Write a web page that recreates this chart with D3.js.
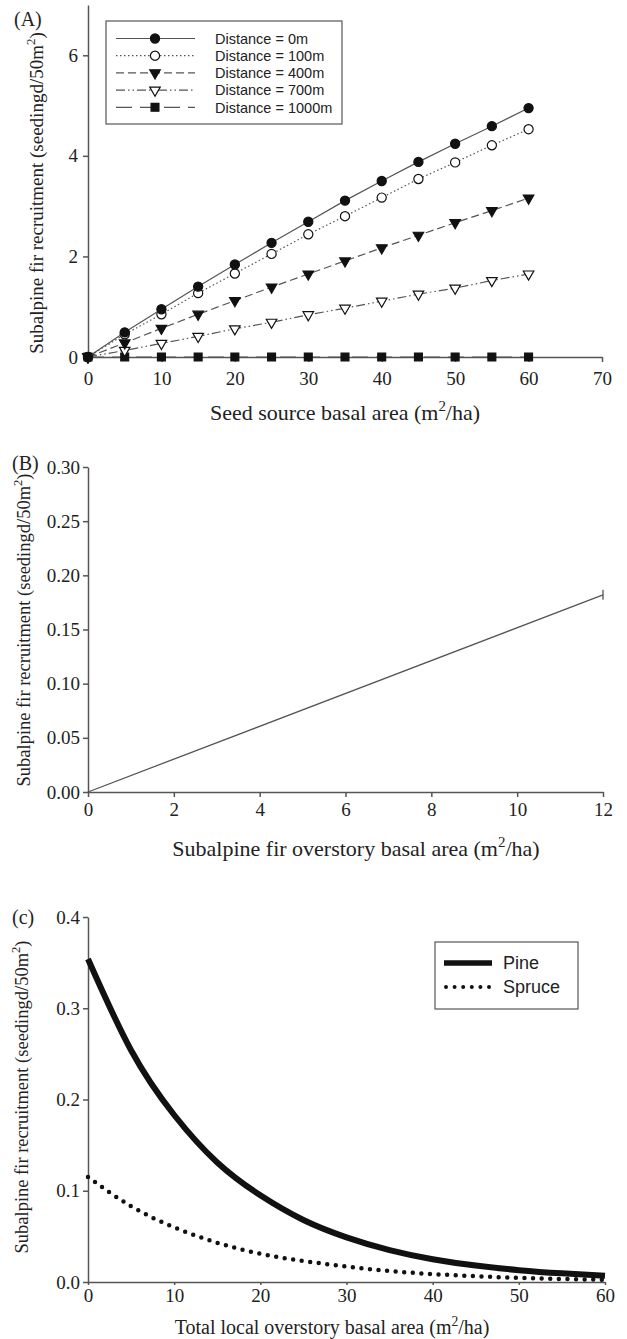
<!DOCTYPE html>
<html>
<head>
<meta charset="utf-8">
<script src="https://cdn.jsdelivr.net/npm/d3@7"></script>
<style>
  body { margin: 0; background: #fff; }
  svg { display: block; }
  .chart .tick text { font-family: 'Liberation Serif', 'Times New Roman', serif; font-size: 19px; fill: #222; }
</style>
</head>
<body>
<svg class="chart"></svg>
<script>
// (A) seed source basal area vs recruitment, by distance
const seedBA = [0, 5, 10, 15, 20, 25, 30, 35, 40, 45, 50, 55, 60]
const dist0m = [0, 0.49, 0.95, 1.40, 1.84, 2.27, 2.69, 3.11, 3.50, 3.88, 4.24, 4.59, 4.95]
const dist100m = [0, 0.45, 0.85, 1.27, 1.66, 2.05, 2.44, 2.80, 3.17, 3.54, 3.87, 4.21, 4.53]
const dist400m = [0, 0.28, 0.57, 0.85, 1.12, 1.39, 1.65, 1.91, 2.17, 2.42, 2.67, 2.91, 3.16]
const dist700m = [0, 0.13, 0.27, 0.41, 0.56, 0.69, 0.84, 0.97, 1.11, 1.25, 1.37, 1.52, 1.65]
const dist1000m = [0, 0, 0, 0, 0, 0, 0, 0, 0, 0, 0, 0, 0]
const distLabels = ['Distance = 0m', 'Distance = 100m', 'Distance = 400m', 'Distance = 700m', 'Distance = 1000m']
const xTicksA = [0, 10, 20, 30, 40, 50, 60, 70]
const yTicksA = [0, 2, 4, 6]

// (B) fir overstory basal area vs recruitment
const firBA = [0, 12]
const firRecruit = [0, 0.182]
const xTicksB = [0, 2, 4, 6, 8, 10, 12]
const yTicksB = [0, 0.05, 0.10, 0.15, 0.20, 0.25, 0.30]

// (c) total local overstory basal area vs recruitment
const totalBA = [0, 5, 10, 15, 20, 25, 30, 35, 40, 45, 50, 55, 60]
const pine = [0.354, 0.254, 0.183, 0.131, 0.095, 0.068, 0.049, 0.035, 0.025, 0.018, 0.013, 0.0095, 0.0068]
const spruce = [0.115, 0.083, 0.060, 0.043, 0.031, 0.023, 0.017, 0.012, 0.0087, 0.0063, 0.0045, 0.0033, 0.0024]
const xTicksC = [0, 10, 20, 30, 40, 50, 60]
const yTicksC = [0, 0.1, 0.2, 0.3, 0.4]

const serif = "'Liberation Serif', 'Times New Roman', serif"
const sans = "'Liberation Sans', Arial, sans-serif"
const axisColor = '#555'
const lineColor = '#555'

const chart = d3.select('.chart').attr('width', 627).attr('height', 1339)

function draw_axes(g, xSc, ySc, xTicks, yTicks, xFmt, yFmt, o) {
  const ax = g.append('g')
  ax.append('g')
    .attr('transform', `translate(0,${ySc.range()[0]})`)
    .call(d3.axisBottom(xSc).tickValues(xTicks).tickSize(o.xTick).tickSizeOuter(0).tickPadding(o.xPad).tickFormat(xFmt))
    .attr('font-family', serif)
    .attr('font-size', 19)
  ax.append('g')
    .attr('transform', `translate(${xSc.range()[0]},0)`)
    .call(d3.axisLeft(ySc).tickValues(yTicks).tickSize(5).tickSizeOuter(0).tickPadding(o.yPad).tickFormat(yFmt))
    .attr('font-family', serif)
    .attr('font-size', 19)
  ax.selectAll('.domain, .tick line').style('stroke', axisColor).style('stroke-width', '1.5px')
}

// text with a superscript "2" in the middle
function sup_text(g, x, y, size, before, after, rotate) {
  const t = g.append('text')
    .attr('x', x)
    .attr('y', y)
    .attr('text-anchor', 'middle')
    .style('font-family', serif)
    .style('font-size', size + 'px')
    .style('fill', '#222')
  if (rotate) t.attr('transform', `rotate(-90,${x},${y})`)
  t.append('tspan').text(before)
  t.append('tspan').attr('dy', -size * 0.42).style('font-size', size * 0.68 + 'px').text('2')
  t.append('tspan').attr('dy', size * 0.42).text(after)
  return t
}

function panel_label(txt, x, y) {
  chart.append('text')
    .attr('x', x)
    .attr('y', y)
    .style('font-family', serif)
    .style('font-size', '20px')
    .style('fill', '#222')
    .text(txt)
}

// ---------- panel A ----------
function plot_A() {
  const g = chart.append('g')
  const xSc = d3.scaleLinear().domain([0, 70]).range([88, 602])
  const ySc = d3.scaleLinear().domain([0, 7]).range([357, 5])

  draw_axes(g, xSc, ySc, xTicksA, yTicksA, d3.format('d'), d3.format('d'), { xTick: 5, xPad: 10, yPad: 5 })

  const series = [
    { name: distLabels[0], values: dist0m, dash: null, sym: d3.symbolCircle, size: 66, fill: '#111', rot: 0 },
    { name: distLabels[1], values: dist100m, dash: '1.5,2.5', sym: d3.symbolCircle, size: 66, fill: '#fff', rot: 0 },
    { name: distLabels[2], values: dist400m, dash: '8,4', sym: d3.symbolTriangle, size: 48, fill: '#111', rot: 180 },
    { name: distLabels[3], values: dist700m, dash: '9,3,1.5,3,1.5,3', sym: d3.symbolTriangle, size: 48, fill: '#fff', rot: 180 },
    { name: distLabels[4], values: dist1000m, dash: '16,8', sym: d3.symbolSquare, size: 62, fill: '#111', rot: 0 }
  ]

  const line = d3
    .line()
    .x(function(d, i) {
      return xSc(seedBA[i])
    })
    .y(function(d) {
      return ySc(d)
    })

  // draw series back to front so the 0m line ends on top
  const rev = series.slice().reverse()
  rev.forEach(function(s) {
    g.append('path')
      .attr('d', line(s.values))
      .attr('fill', 'none')
      .attr('stroke', lineColor)
      .attr('stroke-width', 1.2)
      .attr('stroke-dasharray', s.dash)
    g.selectAll(null)
      .data(s.values)
      .enter()
      .append('path')
      .attr('d', d3.symbol().type(s.sym).size(s.size))
      .attr('transform', function(d, i) {
        return `translate(${xSc(seedBA[i])},${ySc(d)}) rotate(${s.rot})`
      })
      .attr('fill', s.fill)
      .attr('stroke', '#111')
      .attr('stroke-width', 1.2)
  })

  // legend
  const lg = g.append('g')
  lg.append('rect')
    .attr('x', 106)
    .attr('y', 21)
    .attr('width', 236)
    .attr('height', 103)
    .attr('fill', '#fff')
    .attr('stroke', axisColor)
    .attr('stroke-width', 1.2)
  series.forEach(function(s, i) {
    const y = 38.5 + i * 17.2
    lg.append('line')
      .attr('x1', 116)
      .attr('x2', 195)
      .attr('y1', y)
      .attr('y2', y)
      .attr('stroke', lineColor)
      .attr('stroke-width', 1.2)
      .attr('stroke-dasharray', s.dash)
    lg.append('path')
      .attr('d', d3.symbol().type(s.sym).size(s.size))
      .attr('transform', `translate(155,${y}) rotate(${s.rot})`)
      .attr('fill', s.fill)
      .attr('stroke', '#111')
      .attr('stroke-width', 1.2)
    lg.append('text')
      .attr('x', 215)
      .attr('y', y)
      .attr('dy', '0.36em')
      .style('font-family', sans)
      .style('font-size', '14.5px')
      .style('fill', '#222')
      .text(s.name)
  })

  sup_text(g, 345, 420, 22, 'Seed source basal area (m', '/ha)', false)
  sup_text(g, 43, 193, 19, 'Subalpine fir recruitment (seedingd/50m', ')', true)
  panel_label('(A)', 14, 26)
}

// ---------- panel B ----------
function plot_B() {
  const g = chart.append('g')
  const xSc = d3.scaleLinear().domain([0, 12]).range([88, 603])
  const ySc = d3.scaleLinear().domain([0, 0.3]).range([792, 467])

  draw_axes(g, xSc, ySc, xTicksB, yTicksB, d3.format('d'), d3.format('.2f'), { xTick: 5, xPad: 6, yPad: 3 })

  const line = d3
    .line()
    .x(function(d, i) {
      return xSc(firBA[i])
    })
    .y(function(d) {
      return ySc(d)
    })

  g.append('path')
    .attr('d', line(firRecruit))
    .attr('fill', 'none')
    .attr('stroke', lineColor)
    .attr('stroke-width', 1.3)

  // end cap at the last point
  const last = firRecruit.length - 1
  g.append('line')
    .attr('x1', xSc(firBA[last]))
    .attr('x2', xSc(firBA[last]))
    .attr('y1', ySc(firRecruit[last]) - 5)
    .attr('y2', ySc(firRecruit[last]) + 5)
    .attr('stroke', lineColor)
    .attr('stroke-width', 1.3)

  sup_text(g, 356, 856, 22, 'Subalpine fir overstory basal area (m', '/ha)', false)
  sup_text(g, 30, 630, 18.5, 'Subalpine fir recruitment (seedingd/50m', ')', true)
  panel_label('(B)', 12, 470)
}

// ---------- panel C ----------
function plot_C() {
  const g = chart.append('g')
  const xSc = d3.scaleLinear().domain([0, 60]).range([88, 605])
  const ySc = d3.scaleLinear().domain([0, 0.4]).range([1282, 917])

  draw_axes(g, xSc, ySc, xTicksC, yTicksC, d3.format('d'), d3.format('.1f'), { xTick: 3, xPad: 4, yPad: 3 })

  const line = d3
    .line()
    .curve(d3.curveNatural)
    .x(function(d, i) {
      return xSc(totalBA[i])
    })
    .y(function(d) {
      return ySc(d)
    })

  g.append('path')
    .attr('d', line(spruce))
    .attr('fill', 'none')
    .attr('stroke', '#111')
    .attr('stroke-width', 4.5)
    .attr('stroke-linecap', 'round')
    .attr('stroke-dasharray', '0,8.6')

  g.append('path')
    .attr('d', line(pine))
    .attr('fill', 'none')
    .attr('stroke', '#111')
    .attr('stroke-width', 6)

  // legend
  const lg = g.append('g')
  lg.append('rect')
    .attr('x', 435)
    .attr('y', 942)
    .attr('width', 143)
    .attr('height', 67)
    .attr('fill', '#fff')
    .attr('stroke', axisColor)
    .attr('stroke-width', 1.2)
  lg.append('line')
    .attr('x1', 444)
    .attr('x2', 492)
    .attr('y1', 963)
    .attr('y2', 963)
    .attr('stroke', '#111')
    .attr('stroke-width', 5.5)
  lg.append('line')
    .attr('x1', 446)
    .attr('x2', 492)
    .attr('y1', 987)
    .attr('y2', 987)
    .attr('stroke', '#111')
    .attr('stroke-width', 4)
    .attr('stroke-linecap', 'round')
    .attr('stroke-dasharray', '0,8.6')
  lg.selectAll('.lgtxt')
    .data(['Pine', 'Spruce'])
    .enter()
    .append('text')
    .attr('x', 503)
    .attr('y', function(d, i) {
      return 963 + i * 24
    })
    .attr('dy', '0.36em')
    .style('font-family', sans)
    .style('font-size', '18px')
    .style('fill', '#222')
    .text(function(d) {
      return d
    })

  sup_text(g, 332, 1334, 20, 'Total local overstory basal area (m', '/ha)', false)
  sup_text(g, 28, 1097, 18.5, 'Subalpine fir recruitment (seedingd/50m', ')', true)
  panel_label('(c)', 12, 924)
}

plot_A()
plot_B()
plot_C()
</script>
</body>
</html>
